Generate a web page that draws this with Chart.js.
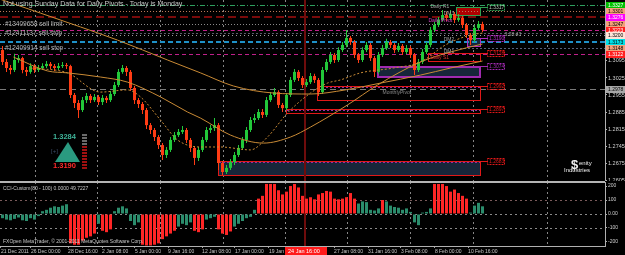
<!DOCTYPE html>
<html>
<head>
<meta charset="utf-8">
<title>EURUSD H4</title>
<script src="https://cdn.jsdelivr.net/npm/chart.js@4.4.0/dist/chart.umd.min.js"></script>
<style>
  html, body { margin: 0; padding: 0; background: #000; }
  #wrap { position: relative; width: 625px; height: 255px; overflow: hidden; background: #000; }
  #wrap canvas { position: absolute; left: 0; }
  #main { top: 0; }
  #cci { top: 181px; }
</style>
</head>
<body>
<div id="wrap">
  <canvas id="main" width="625" height="181"></canvas>
  <canvas id="cci" width="625" height="74"></canvas>
</div>
<script>
// H4 candles (one candle per 4 px)
const opens = [
  1.3140, 1.3091, 1.3066, 1.3058, 1.3099, 1.3107, 1.3058, 1.3050, 1.3074, 1.3058,
  1.3066, 1.3074, 1.3083, 1.3074, 1.3066, 1.3074, 1.3078, 1.3074, 1.2955, 1.2922,
  1.2893, 1.2934, 1.2951, 1.2934, 1.2947, 1.2926, 1.2943, 1.2934, 1.2959, 1.2996,
  1.3050, 1.3066, 1.3050, 1.2984, 1.2934, 1.2918, 1.2893, 1.2831, 1.2811, 1.2782,
  1.2749, 1.2708, 1.2729, 1.2770, 1.2790, 1.2803, 1.2811, 1.2770, 1.2737, 1.2696,
  1.2729, 1.2770, 1.2811, 1.2819, 1.2831, 1.2675, 1.2638, 1.2655, 1.2679, 1.2708,
  1.2737, 1.2770, 1.2811, 1.2852, 1.2860, 1.2885, 1.2873, 1.2934, 1.2955, 1.2967,
  1.2914, 1.2901, 1.2955, 1.3017, 1.3050, 1.3025, 1.2996, 1.3008, 1.3033, 1.3017,
  1.2967, 1.3058, 1.3091, 1.3120, 1.3099, 1.3140, 1.3161, 1.3190, 1.3173, 1.3120,
  1.3099, 1.3140, 1.3161, 1.3107, 1.3050, 1.3120, 1.3148, 1.3173, 1.3161, 1.3140,
  1.3157, 1.3132, 1.3148, 1.3120, 1.3058, 1.3091, 1.3132, 1.3161, 1.3223, 1.3243,
  1.3264, 1.3284, 1.3272, 1.3288, 1.3264, 1.3272, 1.3243, 1.3202, 1.3181, 1.3231,
  1.3247
];
const highs = [
  1.3157, 1.3103, 1.3078, 1.3125, 1.3120, 1.3112, 1.3070, 1.3086, 1.3083, 1.3078,
  1.3086, 1.3095, 1.3091, 1.3083, 1.3087, 1.3091, 1.3087, 1.3080, 1.2963, 1.2934,
  1.2947, 1.2963, 1.2959, 1.2959, 1.2955, 1.2955, 1.2951, 1.2971, 1.3008, 1.3062,
  1.3078, 1.3074, 1.3058, 1.2992, 1.2943, 1.2926, 1.2901, 1.2840, 1.2819, 1.2790,
  1.2757, 1.2741, 1.2782, 1.2803, 1.2815, 1.2827, 1.2819, 1.2778, 1.2745, 1.2741,
  1.2782, 1.2823, 1.2831, 1.2860, 1.2840, 1.2683, 1.2667, 1.2692, 1.2720, 1.2749,
  1.2782, 1.2823, 1.2864, 1.2877, 1.2897, 1.2897, 1.2947, 1.2967, 1.2984, 1.2975,
  1.2922, 1.2963, 1.3029, 1.3062, 1.3058, 1.3033, 1.3021, 1.3046, 1.3042, 1.3025,
  1.3070, 1.3103, 1.3132, 1.3128, 1.3152, 1.3173, 1.3223, 1.3198, 1.3181, 1.3128,
  1.3152, 1.3173, 1.3169, 1.3115, 1.3132, 1.3161, 1.3186, 1.3181, 1.3169, 1.3169,
  1.3165, 1.3161, 1.3157, 1.3128, 1.3103, 1.3144, 1.3173, 1.3235, 1.3256, 1.3276,
  1.3305, 1.3297, 1.3305, 1.3297, 1.3288, 1.3280, 1.3251, 1.3210, 1.3243, 1.3260,
  1.3256
];
const lows = [
  1.3078, 1.3050, 1.3040, 1.3050, 1.3088, 1.3045, 1.3033, 1.3042, 1.3046, 1.3050,
  1.3058, 1.3066, 1.3062, 1.3054, 1.3058, 1.3066, 1.3062, 1.2943, 1.2901, 1.2860,
  1.2885, 1.2922, 1.2922, 1.2926, 1.2914, 1.2914, 1.2922, 1.2926, 1.2951, 1.2988,
  1.3042, 1.3033, 1.2971, 1.2918, 1.2901, 1.2877, 1.2815, 1.2794, 1.2766, 1.2733,
  1.2687, 1.2696, 1.2720, 1.2762, 1.2782, 1.2794, 1.2757, 1.2720, 1.2667, 1.2683,
  1.2720, 1.2762, 1.2799, 1.2807, 1.2646, 1.2626, 1.2630, 1.2646, 1.2667, 1.2700,
  1.2729, 1.2757, 1.2803, 1.2840, 1.2852, 1.2860, 1.2864, 1.2926, 1.2947, 1.2901,
  1.2885, 1.2893, 1.2947, 1.3008, 1.3013, 1.2984, 1.2988, 1.3000, 1.3004, 1.2951,
  1.2959, 1.3050, 1.3083, 1.3087, 1.3091, 1.3132, 1.3152, 1.3161, 1.3107, 1.3087,
  1.3091, 1.3132, 1.3095, 1.3029, 1.3042, 1.3111, 1.3140, 1.3148, 1.3128, 1.3132,
  1.3120, 1.3124, 1.3107, 1.3037, 1.3050, 1.3083, 1.3124, 1.3152, 1.3214, 1.3235,
  1.3256, 1.3260, 1.3264, 1.3251, 1.3256, 1.3231, 1.3190, 1.3161, 1.3173, 1.3223,
  1.3214
];
const closes = [
  1.3091, 1.3066, 1.3058, 1.3099, 1.3107, 1.3058, 1.3050, 1.3074, 1.3058, 1.3066,
  1.3074, 1.3083, 1.3074, 1.3066, 1.3074, 1.3078, 1.3074, 1.2955, 1.2922, 1.2893,
  1.2934, 1.2951, 1.2934, 1.2947, 1.2926, 1.2943, 1.2934, 1.2959, 1.2996, 1.3050,
  1.3066, 1.3050, 1.2984, 1.2934, 1.2918, 1.2893, 1.2831, 1.2811, 1.2782, 1.2749,
  1.2708, 1.2729, 1.2770, 1.2790, 1.2803, 1.2811, 1.2770, 1.2737, 1.2696, 1.2729,
  1.2770, 1.2811, 1.2819, 1.2831, 1.2675, 1.2638, 1.2655, 1.2679, 1.2708, 1.2737,
  1.2770, 1.2811, 1.2852, 1.2860, 1.2885, 1.2873, 1.2934, 1.2955, 1.2967, 1.2914,
  1.2901, 1.2955, 1.3017, 1.3050, 1.3025, 1.2996, 1.3008, 1.3033, 1.3017, 1.2967,
  1.3058, 1.3091, 1.3120, 1.3099, 1.3140, 1.3161, 1.3190, 1.3173, 1.3120, 1.3099,
  1.3140, 1.3161, 1.3107, 1.3050, 1.3120, 1.3148, 1.3173, 1.3161, 1.3140, 1.3157,
  1.3132, 1.3148, 1.3120, 1.3058, 1.3091, 1.3132, 1.3161, 1.3223, 1.3243, 1.3264,
  1.3284, 1.3272, 1.3288, 1.3264, 1.3272, 1.3243, 1.3202, 1.3181, 1.3231, 1.3247,
  1.3223
];

// CCI-Custom(80) histogram, one value per candle
const cciValues = [
  -30, -40, -45, -35, -25, -45, -50, -30, -40, -15,
  20, 30, 45, 55, 50, 60, 70, -210, -220, -220,
  -190, -170, -160, -140, -70, -120, -130, -110, 20, 45,
  55, 40, -50, -80, -60, -220, -225, -225, -220, -210,
  -180, -160, -140, -120, -90, -70, -80, -60, -120, -130,
  -110, -40, -30, -20, -110, -140, -150, -125, -90, -70,
  -50, -30, -20, 30, 110, 130, 215, 215, 215, 170,
  140, 160, 200, 215, 190, 130, 110, 120, 105, 140,
  150, 165, 160, 110, 105, 110, 120, 150, 110, 75,
  90, 85, 30, 25, 40, 100, 90, 60, 50, 45,
  30, 40, 15, -60, -80, 10, 15, 40, 215, 215,
  215, 200, 160, 175, 150, 130, 110, 10, 60, 80,
  55
];

// moving averages, sampled along the curves (bar position, price)
const maSlowBars = [-0.7, 9.5, 19.5, 28.75, 41.25, 49.5, 57.75, 67.75, 77, 85.75, 94.5, 104.5, 112, 120];
const maSlow = [1.3350, 1.3292, 1.3235, 1.3181, 1.3099, 1.3046, 1.2992, 1.2963, 1.2959, 1.2976, 1.3004, 1.3037, 1.3066, 1.3095];
const maMidBars = [2.75, 11.25, 16.25, 24.5, 31.25, 39.5, 46.25, 49.5, 57, 65.25, 72, 77, 86.25, 93.75, 104.5, 112, 120];
const maMid = [1.3111, 1.3054, 1.3046, 1.3029, 1.3008, 1.2947, 1.2885, 1.2860, 1.2790, 1.2757, 1.2782, 1.2823, 1.2914, 1.2996, 1.3091, 1.3132, 1.3165];
const maFastBars = [7, 16.25, 24.5, 31.25, 34.5, 39.5, 43.75, 49.5, 54.5, 62, 66.25, 71.25, 77, 81.25, 84.5, 89.5, 97.75, 104.5, 110.75, 117, 120];
const maFast = [1.3066, 1.3046, 1.2967, 1.2976, 1.2947, 1.2852, 1.2770, 1.2741, 1.2741, 1.2729, 1.2782, 1.2881, 1.2963, 1.3004, 1.3017, 1.3046, 1.3066, 1.3091, 1.3161, 1.3202, 1.3210];

// axis ticks and time labels
const priceTicks = [1.2605, 1.2675, 1.2745, 1.2815, 1.2885, 1.2955, 1.3025, 1.3095, 1.3165, 1.3235, 1.3305];
const cciTicks = [200, 100, 0, -100, -200];
const cciLevels = [100, 0, -100];
const timeLabels = ['21 Dec 2011', '26 Dec 00:00', '28 Dec 16:00', '2 Jan 08:00', '5 Jan 00:00', '9 Jan 16:00',
  '12 Jan 08:00', '17 Jan 00:00', '19 Jan 16:00', '27 Jan 08:00', '31 Jan 16:00', '3 Feb 08:00', '8 Feb 00:00', '10 Feb 16:00'];
const timeLabelBars = [-0.4, 7.1, 16.4, 24.9, 33.1, 41.4, 49.9, 58.1, 66.6, 82.9, 91.4, 99.6, 108.1, 116.4];
const gridBars = [8.1, 23.6, 39.4, 55.1, 70.6, 86.1, 101.9, 117.6, 136.1];
const cursorBar = 75.6;
const cursorLabel = '24 Jan 16:00';

// horizontal lines (pivots, pending orders)
const levelPrices = [1.3327, 1.3301, 1.3276, 1.3247, 1.3223, 1.3212, 1.3200, 1.3173, 1.3148, 1.3122, 1.2978];
const levelNames = ['', '', '', '#13409658 sell limit', '', '#12411137 sell stop', '', '', '#12409914 sell stop', '', ''];

// supply / demand rectangles
const zoneStart = [54, 70.75, 78.5, 93.5, 106.25, 116, 113.25];
const zoneEnd = [119.75, 119.75, 119.75, 119.75, 119.75, 119.75, 119.75];
const zoneTop = [1.2683, 1.2897, 1.2992, 1.3074, 1.3128, 1.3190, 1.3317];
const zoneBottom = [1.2622, 1.2877, 1.2930, 1.3025, 1.3091, 1.3153, 1.3280];

// small chart texts (text, bar position, price)
const noteTexts = ['Daily R1', 'DM3', 'Daily Pivot', 'DM2', 'DM1', 'Daily S1', 'MonthlyPivot', '3:28:43'];
const noteBars = [107, 110.3, 106.5, 110.3, 110.3, 107, 95, 125.5];
const notePrices = [1.3319, 1.3288, 1.3260, 1.3181, 1.3134, 1.3109, 1.2963, 1.3202];

const titleText = 'Not using Sunday Data for Daily Pivots - Today is Monday';
const widgetHigh = '1.3284';
const widgetLow = '1.3190';

// ---------- styles ----------
const FONT = '"Liberation Sans", Arial, sans-serif';
const upColor = '#22c83a';
const downColor = '#ff3c14';
const maColor = '#c98a35';
const levelStyles = [
  { color: '#2e9e5e', dash: [5, 2, 1, 2], width: 1, tag: '#00c000', tagText: '#ffffff' },
  { color: '#b87a5a', dash: [1, 2], width: 1, tag: '#f4a07a', tagText: '#000000' },
  { color: '#7a0a0a', dash: [8, 4], width: 2, tag: '#ff00ff', tagText: '#ffffff' },
  { color: '#8a8a8a', dash: [1, 2], width: 1, tag: '#f4a07a', tagText: '#000000' },
  { color: '#c0208a', dash: [4, 3], width: 1, tag: '#ff2020', tagText: '#ffffff' },
  { color: '#5a5a6a', dash: [2, 2], width: 1, tag: null },
  { color: '#9a9a9a', dash: [1, 3], width: 1, tag: '#ffe4d8', tagText: '#000000' },
  { color: '#1e90c8', dash: [5, 3], width: 2, tag: '#00e0e8', tagText: '#000000' },
  { color: '#56607a', dash: [2, 2], width: 1, tag: '#f4a07a', tagText: '#000000' },
  { color: '#c0208a', dash: [4, 3], width: 1, tag: '#ff2020', tagText: '#ffffff' },
  { color: '#7a7a7a', dash: [6, 4], width: 1, tag: '#a8a8a8', tagText: '#000000' }
];
const zoneStyles = [
  { fill: '#17263a', edge: '#e01818', lw: 1, inner: '#9a2aa0' },
  { fill: null, edge: '#e01818', lw: 1, inner: '#9a2aa0' },
  { fill: null, edge: '#e01818', lw: 1, inner: '#9a2aa0' },
  { fill: '#17263a', edge: '#a02ab0', lw: 2, inner: null },
  { fill: null, edge: '#e01818', lw: 1, inner: null },
  { fill: '#17263a', edge: '#b02ac0', lw: 1, inner: null },
  { fill: '#b00000', edge: '#2ea050', lw: 1, inner: null }
];
const noteColors = ['#a0a0a0', '#a0a0a0', '#d040c0', '#a0a0a0', '#a0a0a0', '#e03030', '#8a8a8a', '#a0a0a0'];

const candleColors = closes.map((c, i) => c >= opens[i] ? upColor : downColor);
const cciColors = cciValues.map(v => Math.abs(v) >= 100 ? '#ff2626' : '#2b8c6c');

function hline(ctx, x1, x2, yy) { ctx.beginPath(); ctx.moveTo(x1, yy); ctx.lineTo(x2, yy); ctx.stroke(); }
function vline(ctx, xx, y1, y2) { ctx.beginPath(); ctx.moveTo(xx, y1); ctx.lineTo(xx, y2); ctx.stroke(); }
const crisp = v => Math.round(v) + 0.5;

function zoneRect(x, y, k) {
  return {
    x1: Math.round(x.getPixelForValue(zoneStart[k])),
    x2: Math.round(x.getPixelForValue(zoneEnd[k])),
    y1: Math.round(y.getPixelForValue(zoneTop[k])),
    y2: Math.round(y.getPixelForValue(zoneBottom[k]))
  };
}

const mainDraw = {
  id: 'mainDraw',
  beforeDatasetsDraw(chart) {
    const { ctx, chartArea: a, scales: { x, y } } = chart;
    ctx.save();
    ctx.beginPath(); ctx.rect(a.left, a.top, a.right - a.left, a.bottom - a.top); ctx.clip();
    // grid
    ctx.lineWidth = 1; ctx.setLineDash([2, 3]); ctx.strokeStyle = '#858585';
    gridBars.forEach(g => vline(ctx, crisp(x.getPixelForValue(g)), a.top, a.bottom));
    // rectangle fills
    zoneStart.forEach((s, k) => {
      const st = zoneStyles[k];
      if (!st.fill) return;
      const r = zoneRect(x, y, k);
      ctx.fillStyle = st.fill;
      ctx.fillRect(r.x1, r.y1, r.x2 - r.x1, r.y2 - r.y1);
    });
    // horizontal levels
    levelPrices.forEach((p, k) => {
      const st = levelStyles[k];
      ctx.strokeStyle = st.color; ctx.lineWidth = st.width; ctx.setLineDash(st.dash);
      const yy = st.width === 1 ? crisp(y.getPixelForValue(p)) : Math.round(y.getPixelForValue(p));
      hline(ctx, a.left, a.right, yy);
    });
    // rectangle outlines
    zoneStart.forEach((s, k) => {
      const st = zoneStyles[k];
      const r = zoneRect(x, y, k);
      ctx.setLineDash([]); ctx.lineWidth = st.lw; ctx.strokeStyle = st.edge;
      const o = st.lw === 1 ? 0.5 : 1;
      ctx.strokeRect(r.x1 + o, r.y1 + o, r.x2 - r.x1 - 2 * o, r.y2 - r.y1 - 2 * o);
      if (st.inner) {
        ctx.setLineDash([2, 2]); ctx.lineWidth = 1; ctx.strokeStyle = st.inner;
        hline(ctx, r.x1 + 1, r.x2 - 1, r.y1 + 1.5);
      }
    });
    // cursor line
    ctx.setLineDash([]); ctx.strokeStyle = '#6e0c0c'; ctx.lineWidth = 2;
    vline(ctx, Math.round(x.getPixelForValue(cursorBar)), a.top, a.bottom);
    ctx.restore();
  },
  afterDatasetsDraw(chart) {
    const { ctx, scales: { x, y } } = chart;
    ctx.save();
    ctx.textBaseline = 'middle'; ctx.textAlign = 'left';
    // title
    ctx.font = '7px ' + FONT; ctx.fillStyle = '#c8c8c8';
    ctx.fillText(titleText, 3, 4.5);
    // order labels on their lines
    ctx.font = '6.5px ' + FONT; ctx.fillStyle = '#b4b4b4';
    levelPrices.forEach((p, k) => {
      if (levelNames[k]) ctx.fillText(levelNames[k], 5, Math.round(y.getPixelForValue(p)));
    });
    // pivot notes
    ctx.font = '5px ' + FONT;
    noteTexts.forEach((t, k) => {
      ctx.fillStyle = noteColors[k];
      ctx.fillText(t, x.getPixelForValue(noteBars[k]), y.getPixelForValue(notePrices[k]));
    });
    // rectangle price tags
    zoneStart.forEach((s, k) => {
      const st = zoneStyles[k];
      const r = zoneRect(x, y, k);
      ctx.strokeStyle = st.edge; ctx.lineWidth = 1; ctx.setLineDash([]);
      hline(ctx, r.x2, r.x2 + 6, r.y1 + 0.5);
      ctx.setLineDash([2, 1]);
      ctx.strokeRect(r.x2 + 6.5, r.y1 - 2.5, 17, 6);
      ctx.fillStyle = st.edge === '#2ea050' ? '#b0c0b0' : st.edge;
      ctx.fillText(zoneTop[k].toFixed(4), r.x2 + 8, r.y1 + 0.5);
    });
    ctx.setLineDash([]);
    // price change widget
    ctx.font = 'bold 7.5px ' + FONT;
    ctx.fillStyle = '#3fb59a'; ctx.fillText(widgetHigh, 53, 137);
    ctx.fillStyle = '#2a9a80';
    ctx.beginPath(); ctx.moveTo(55, 162); ctx.lineTo(68, 142); ctx.lineTo(80, 162); ctx.closePath(); ctx.fill();
    ctx.font = '6px ' + FONT; ctx.fillStyle = '#3a4a66'; ctx.fillText('[+]', 51, 151);
    ctx.font = 'bold 7.5px ' + FONT; ctx.fillStyle = '#ff2a2a'; ctx.fillText(widgetLow, 53, 166);
    for (let k = 0; k < 12; k++) {
      ctx.fillStyle = k < 4 ? '#6a6a6a' : '#a01010';
      ctx.fillRect(82, 134 + k * 3, 5, 2);
    }
    // logo
    ctx.fillStyle = '#f0f0f0';
    ctx.font = 'bold 13px ' + FONT; ctx.fillText('$', 571, 165);
    ctx.font = '6px ' + FONT;
    ctx.fillText('enity', 579, 163);
    ctx.fillText('Industries', 564, 170);
    ctx.restore();
  },
  afterDraw(chart) {
    const { ctx, chartArea: a, scales: { y } } = chart;
    ctx.save();
    ctx.font = '5px ' + FONT; ctx.textBaseline = 'middle'; ctx.textAlign = 'left';
    levelPrices.forEach((p, k) => {
      const st = levelStyles[k];
      if (!st.tag) return;
      const yy = Math.round(y.getPixelForValue(p));
      ctx.fillStyle = st.tag; ctx.fillRect(a.right + 1, yy - 3, 19, 7);
      ctx.fillStyle = st.tagText; ctx.fillText(p.toFixed(4), a.right + 3, yy + 0.5);
    });
    ctx.restore();
  }
};

const cciDraw = {
  id: 'cciDraw',
  beforeDatasetsDraw(chart) {
    const { ctx, chartArea: a, scales: { x, y } } = chart;
    ctx.save();
    ctx.lineWidth = 1; ctx.setLineDash([2, 3]); ctx.strokeStyle = '#858585';
    gridBars.forEach(g => vline(ctx, crisp(x.getPixelForValue(g)), a.top, a.bottom));
    cciLevels.forEach(v => {
      ctx.strokeStyle = v === 100 ? '#7a5a5a' : '#8a8a8a';
      hline(ctx, a.left, a.right, crisp(y.getPixelForValue(v)));
    });
    ctx.setLineDash([]); ctx.strokeStyle = '#6e0c0c'; ctx.lineWidth = 2;
    vline(ctx, Math.round(x.getPixelForValue(cursorBar)), 0, a.bottom);
    ctx.restore();
  },
  afterDraw(chart) {
    const { ctx, chartArea: a, scales: { x } } = chart;
    ctx.save();
    ctx.fillStyle = '#b4b4b4';
    ctx.fillRect(0, 0, a.right, 2);
    ctx.textBaseline = 'middle'; ctx.textAlign = 'left';
    ctx.font = '5px ' + FONT; ctx.fillStyle = '#c8c8c8';
    ctx.fillText('CCI-Custom(80 - 100) 0.0000 49.7227', 3, 7.5);
    ctx.fillText('FXOpen MetaTrader, \u00a9 2001-2011 MetaQuotes Software Corp.', 3, 60.5);
    // time label under the cursor
    const cx = Math.round(x.getPixelForValue(cursorBar));
    ctx.fillStyle = '#ff1a1a';
    ctx.fillRect(cx - 20, a.bottom + 1, 42, chart.height - a.bottom - 1);
    ctx.fillStyle = '#ffffff'; ctx.font = '5.5px ' + FONT;
    ctx.fillText(cursorLabel, cx - 17, a.bottom + 5);
    ctx.restore();
  }
};

const xRange = { min: -0.625, max: 150.625 };

new Chart(document.getElementById('main'), {
  type: 'bar',
  data: {
    datasets: [
      { type: 'line', data: maSlowBars.map((b, k) => ({ x: b, y: maSlow[k] })), borderColor: maColor, borderWidth: 1, pointRadius: 0, cubicInterpolationMode: 'monotone' },
      { type: 'line', data: maMidBars.map((b, k) => ({ x: b, y: maMid[k] })), borderColor: maColor, borderWidth: 1, pointRadius: 0, cubicInterpolationMode: 'monotone' },
      { type: 'line', data: maFastBars.map((b, k) => ({ x: b, y: maFast[k] })), borderColor: maColor, borderWidth: 1, borderDash: [2, 2], pointRadius: 0, cubicInterpolationMode: 'monotone' },
      { data: closes.map((c, i) => ({ x: i, y: [opens[i], c] })), backgroundColor: candleColors, barThickness: 3, grouped: false, inflateAmount: 0, borderWidth: 0, minBarLength: 1 },
      { data: closes.map((c, i) => ({ x: i, y: [lows[i], highs[i]] })), backgroundColor: candleColors, barThickness: 1, grouped: false, inflateAmount: 0, borderWidth: 0 }
    ]
  },
  options: {
    responsive: false,
    devicePixelRatio: 1,
    animation: false,
    events: [],
    layout: { padding: 0 },
    plugins: { legend: { display: false }, tooltip: { enabled: false } },
    scales: {
      x: { type: 'linear', min: xRange.min, max: xRange.max, offset: false, display: false },
      y: {
        type: 'linear', position: 'right', min: 1.2601, max: 1.3346, beginAtZero: false, bounds: 'data',
        afterBuildTicks: s => { s.ticks = priceTicks.map(v => ({ value: v })); },
        afterFit: s => { s.width = 20; s.paddingTop = 0; s.paddingBottom = 0; },
        ticks: { color: '#d0d0d0', font: { size: 5.5, family: FONT }, padding: 1, callback: v => v.toFixed(4) },
        grid: { drawOnChartArea: false, drawTicks: true, tickLength: 2, color: '#b0b0b0' },
        border: { color: '#b0b0b0' }
      }
    }
  },
  plugins: [mainDraw]
});

new Chart(document.getElementById('cci'), {
  type: 'bar',
  data: {
    datasets: [
      { data: cciValues.map((v, i) => ({ x: i, y: v })), backgroundColor: cciColors, barThickness: 3, grouped: false, inflateAmount: 0, borderWidth: 0 }
    ]
  },
  options: {
    responsive: false,
    devicePixelRatio: 1,
    animation: false,
    events: [],
    layout: { padding: { top: 1, left: 0, right: 0, bottom: 0 } },
    plugins: { legend: { display: false }, tooltip: { enabled: false } },
    scales: {
      x: {
        type: 'linear', min: xRange.min, max: xRange.max, offset: false,
        afterBuildTicks: s => { s.ticks = timeLabelBars.map(v => ({ value: v })); },
        afterFit: s => { s.height = 9; s.paddingLeft = 0; s.paddingRight = 0; },
        ticks: { color: '#c8c8c8', font: { size: 5, family: FONT }, padding: 1, align: 'start', autoSkip: false, maxRotation: 0, minRotation: 0,
          callback: (v, idx) => timeLabels[idx] },
        grid: { drawOnChartArea: false, drawTicks: true, tickLength: 2, color: '#a0a0a0', offset: false },
        border: { color: '#b0b0b0' }
      },
      y: {
        type: 'linear', position: 'right', min: -229, max: 229, bounds: 'data',
        afterBuildTicks: s => { s.ticks = cciTicks.map(v => ({ value: v })); },
        afterFit: s => { s.width = 20; s.paddingTop = 0; s.paddingBottom = 0; },
        ticks: { color: '#d0d0d0', font: { size: 5, family: FONT }, padding: 1, callback: v => v === 0 ? '0.00' : String(v) },
        grid: { drawOnChartArea: false, drawTicks: true, tickLength: 2, color: '#b0b0b0' },
        border: { color: '#b0b0b0' }
      }
    }
  },
  plugins: [cciDraw]
});
</script>
</body>
</html>
